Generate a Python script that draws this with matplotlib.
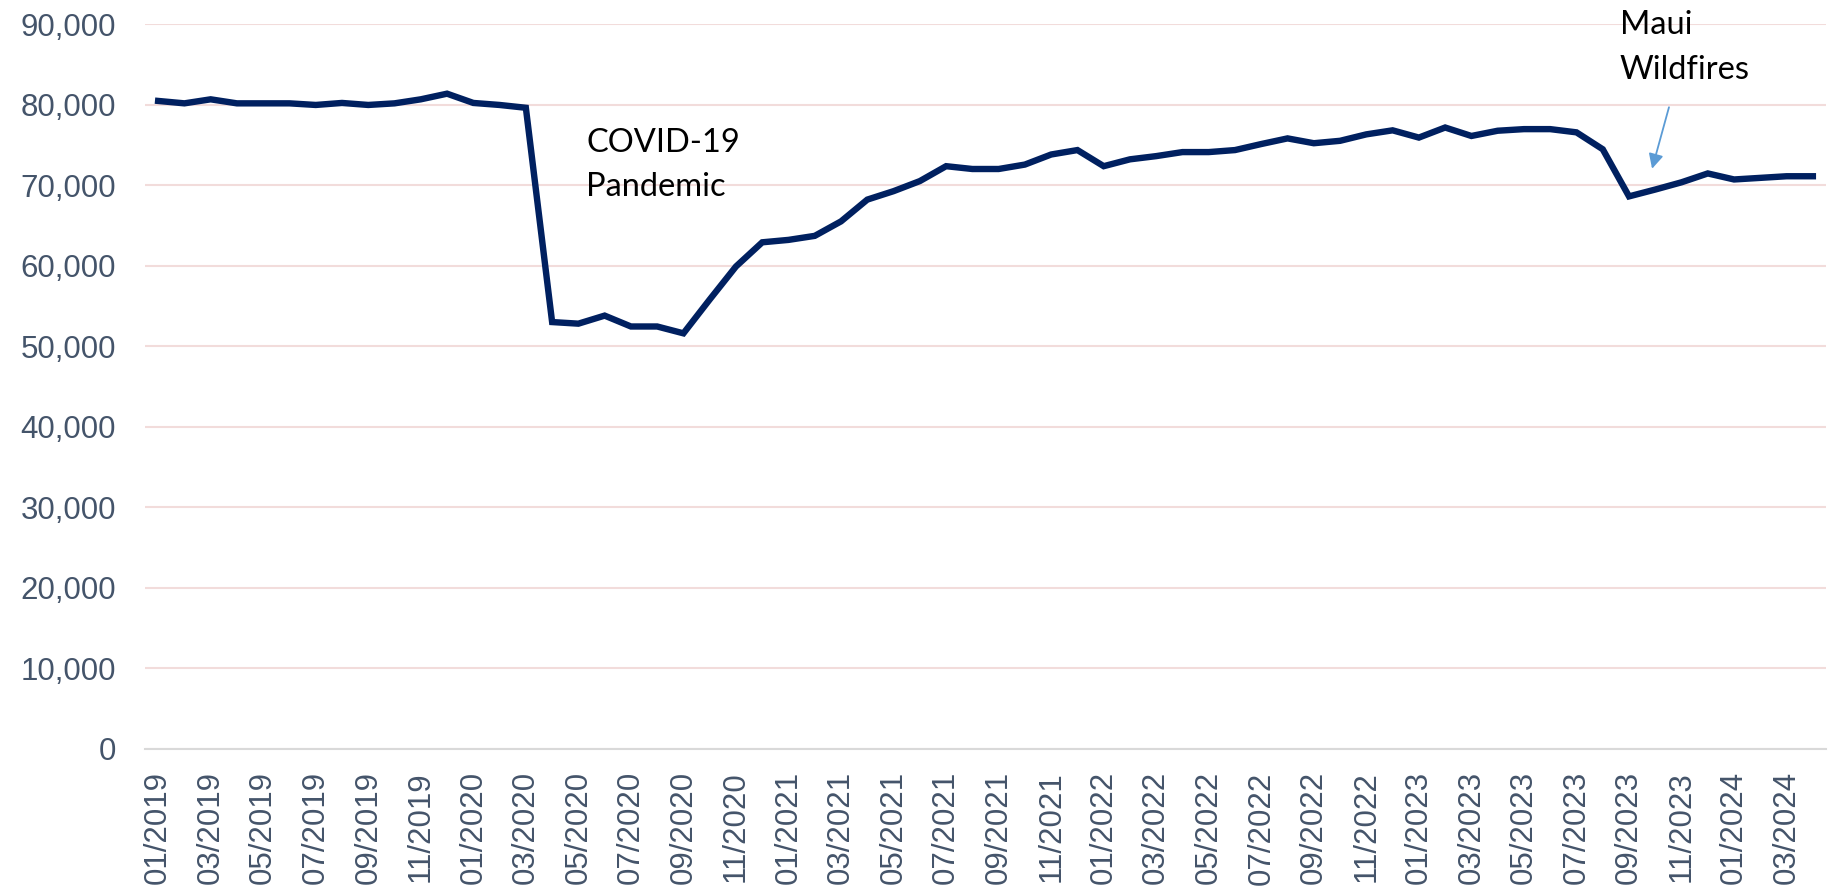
import matplotlib.pyplot as plt
import pandas as pd
from matplotlib.ticker import FuncFormatter

months = pd.date_range("2019-01-01", "2024-04-01", freq="MS").strftime("%m/%Y").tolist()
visitors = [
    80450, 80150, 80650, 80150, 80150, 80150, 79950, 80200, 79950, 80150, 80650, 81350,
    80200, 79950, 79600, 53000, 52800, 53800, 52450, 52450, 51600, 55800, 59900, 62900,
    63200, 63700, 65500, 68200, 69250, 70500, 72350, 72000, 72000, 72550, 73800, 74350,
    72350, 73200, 73600, 74100, 74100, 74350, 75100, 75800, 75200, 75500, 76300, 76800,
    75900, 77150, 76100, 76750, 76950, 76950, 76550, 74450, 68600, 69450, 70350, 71450,
    70700, 70900, 71100, 71100,
]
y_ticks = list(range(0, 90001, 10000))

fig = plt.figure(figsize=(18.33, 8.9), dpi=100)
ax = fig.add_axes([145 / 1833, (890 - 749) / 890, (1826 - 145) / 1833, (749 - 24) / 890])

x = list(range(len(months)))
ax.plot(x, visitors, color="#002060", linewidth=4.6, solid_joinstyle="miter", zorder=3)

ax.set_xlim(-0.5, len(months) - 0.5)
ax.set_ylim(0, 90000)
ax.set_yticks(y_ticks)
ax.yaxis.set_major_formatter(FuncFormatter(lambda v, _: f"{int(v):,}"))
ax.set_xticks(x[::2])
ax.set_xticklabels(months[::2], rotation=90)

for lab in ax.get_yticklabels() + ax.get_xticklabels():
    lab.set_fontfamily("Liberation Sans")
    lab.set_fontsize(22.5)
    lab.set_color("#44546a")
ax.tick_params(axis="y", length=0, pad=21)
ax.tick_params(axis="x", length=0, pad=16)

ax.grid(axis="y", color="#f2dcdb", linewidth=1.5, zorder=0)
ax.set_axisbelow(True)
for side in ["top", "right", "left"]:
    ax.spines[side].set_visible(False)
ax.spines["bottom"].set_color("#d9d9d9")
ax.spines["bottom"].set_linewidth(1.5)

note_font = dict(family="Lato", size=23.5, color="black", linespacing=1.6)
ax.text(16.3, 77100, "COVID-19\nPandemic", ha="left", va="top", **note_font)
ax.text(55.65, 91700, "Maui\nWildfires", ha="left", va="top", clip_on=False, **note_font)
ax.annotate("", xy=(56.85, 71700), xytext=(57.55, 80000),
            arrowprops=dict(arrowstyle="-|>", color="#5b9bd5", lw=1.3, mutation_scale=22))

fig.savefig("out.png", dpi=100)
